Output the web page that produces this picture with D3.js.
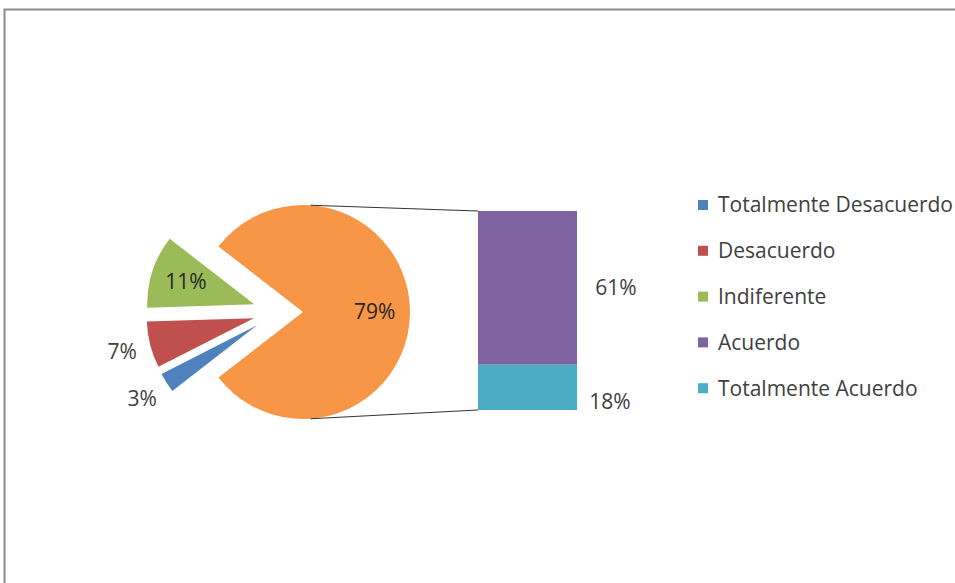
<!DOCTYPE html>
<html>
<head>
<meta charset="utf-8">
<script src="https://cdn.jsdelivr.net/npm/d3@7"></script>
<style>
  html, body { margin: 0; padding: 0; background: #fff; }
  svg { display: block; }
  text { font-family: "Open Sans", sans-serif; }
</style>
</head>
<body>
<svg id="chart" width="955" height="583"></svg>
<script>
// Survey answers (percent)
const categories = ["Totalmente Desacuerdo", "Desacuerdo", "Indiferente", "Acuerdo", "Totalmente Acuerdo"];
const values = [3, 7, 11, 61, 18];
const colors = ["#4F81BD", "#C0504D", "#9BBB59", "#8064A2", "#4BACC6"];
const otherColor = "#F79646";
// the last two answers are grouped into the "other" slice and split in the bar
const splitIndex = 3;

const svg = d3.select("#chart");
const W = 955, H = 583;
const fontSize = 21;

// chart area frame
svg.append("rect")
  .attr("x", 4.5).attr("y", 9.5)
  .attr("width", W + 10).attr("height", H + 10)
  .attr("fill", "#fff").attr("stroke", "#8a8a8a").attr("stroke-width", 2);

const pieVals = values.slice(0, splitIndex);
const otherVal = d3.sum(values.slice(splitIndex));
const total = d3.sum(values);

// pie slices: the "other" slice faces the bar, then the small ones clockwise
const pieData = [{ label: "other", value: otherVal, color: otherColor }]
  .concat([0, 1, 2].map(i => ({ label: categories[i], value: pieVals[i], color: colors[i] })));

const cx = 278, cy = 312, R = 107, explode = 25;
const startA = Math.PI / 2 - (otherVal / total) * Math.PI;
const pie = d3.pie().sort(null).value(d => d.value)
  .startAngle(startA).endAngle(startA + 2 * Math.PI);
const arcs = pie(pieData);
const arc = d3.arc().innerRadius(0).outerRadius(R);

const g = svg.append("g").attr("transform", `translate(${cx},${cy})`);

function offset(d, k) {
  const a = (d.startAngle + d.endAngle) / 2;
  return [Math.sin(a) * k, -Math.cos(a) * k];
}

g.selectAll("path.slice").data(arcs).join("path")
  .attr("class", "slice")
  .attr("transform", d => { const [x, y] = offset(d, explode); return `translate(${x},${y})`; })
  .attr("d", arc)
  .attr("fill", d => d.data.color);

// slice labels: inside for large slices, outside for narrow ones
const fmt = v => v + "%";
arcs.forEach(d => {
  const [ox, oy] = offset(d, explode);
  const inside = d.data.value >= 10;
  const [lx, ly] = offset(d, inside ? R * 0.67 : R * 1.27);
  g.append("text")
    .attr("x", ox + lx).attr("y", oy + ly)
    .attr("dy", "0.35em")
    .attr("text-anchor", "middle")
    .attr("font-size", fontSize)
    .attr("fill", inside ? "#262626" : "#404040")
    .text(fmt(d.data.value));
});

// stacked bar for the split-out answers
const barX = 478, barW = 99;
const y = d3.scaleLinear().domain([0, otherVal]).range([410, 211]);
const barData = [];
let acc = 0;
for (let i = values.length - 1; i >= splitIndex; i--) {
  barData.push({ label: categories[i], value: values[i], color: colors[i], y0: acc, y1: acc + values[i] });
  acc += values[i];
}
svg.selectAll("rect.bar").data(barData).join("rect")
  .attr("class", "bar")
  .attr("x", barX).attr("width", barW)
  .attr("y", d => y(d.y1)).attr("height", d => y(d.y0) - y(d.y1))
  .attr("fill", d => d.color);

svg.selectAll("text.barlabel").data(barData).join("text")
  .attr("class", "barlabel")
  .attr("x", d => barX + barW + (d.value > 30 ? 39 : 33))
  .attr("y", d => d.value > 30 ? y((d.y0 + d.y1) / 2) : y(d.y0) - 8)
  .attr("dy", "0.35em")
  .attr("text-anchor", "middle")
  .attr("font-size", fontSize)
  .attr("fill", "#404040")
  .text(d => fmt(d.value));

// connector lines from the "other" slice to the bar
const [oox, ooy] = offset(arcs[0], explode);
const tA = 4 * Math.PI / 180, bA = 176 * Math.PI / 180;
const conn = [
  [[cx + oox + Math.sin(tA) * R, cy + ooy - Math.cos(tA) * R], [barX, y(otherVal)]],
  [[cx + oox + Math.sin(bA) * R, cy + ooy - Math.cos(bA) * R], [barX, y(0)]]
];
svg.selectAll("line.conn").data(conn).join("line")
  .attr("class", "conn")
  .attr("x1", d => d[0][0]).attr("y1", d => d[0][1])
  .attr("x2", d => d[1][0]).attr("y2", d => d[1][1])
  .attr("stroke", "#333").attr("stroke-width", 1.2);

// legend
const legend = svg.append("g").attr("transform", "translate(698,205)");
const rowH = 45.8;
categories.forEach((c, i) => {
  const row = legend.append("g").attr("transform", `translate(0,${i * rowH})`);
  row.append("rect").attr("x", 0).attr("y", -5).attr("width", 10).attr("height", 10).attr("fill", colors[i]);
  row.append("text").attr("x", 20).attr("y", 0).attr("dy", "0.35em")
    .attr("font-size", fontSize).attr("fill", "#404040").text(c);
});
</script>
</body>
</html>
